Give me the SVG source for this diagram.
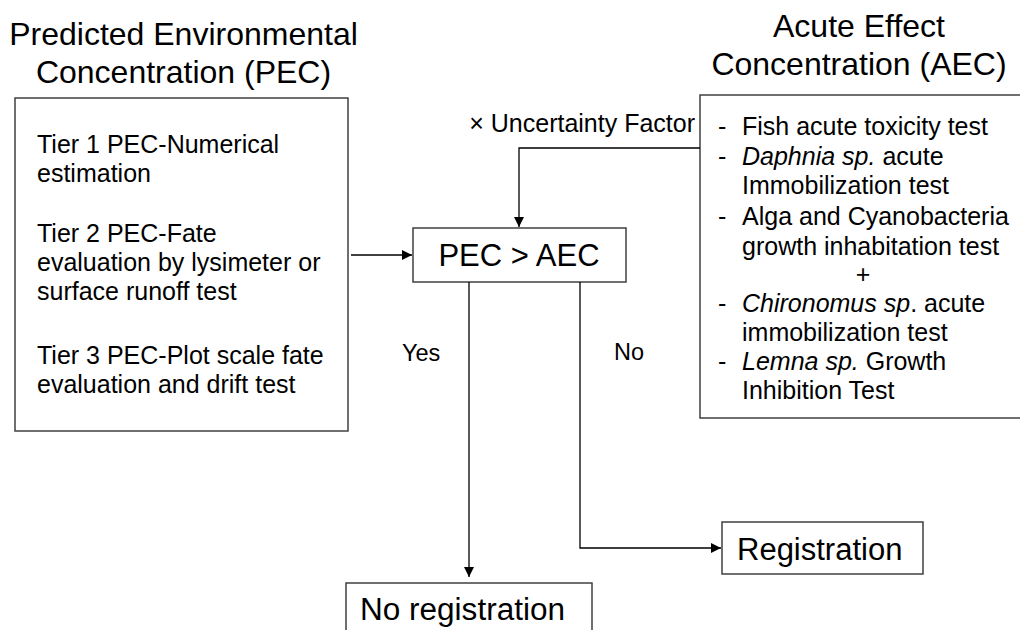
<svg xmlns="http://www.w3.org/2000/svg" width="1020" height="630" viewBox="0 0 1020 630">
<defs>
<style>
text{font-family:"Liberation Sans",Arial,sans-serif;fill:#000}
.box{fill:#fff;stroke:#404040;stroke-width:1.5}
.title{font-size:32px}
.body{font-size:25px}
.lbl{font-size:23.5px}
.big{font-size:31px}
.conn{fill:none;stroke:#000;stroke-width:1.3}
.i{font-style:italic}
</style>
<marker id="arr" viewBox="0 0 10 10" refX="10" refY="5" markerWidth="10" markerHeight="10" markerUnits="userSpaceOnUse" orient="auto">
<path d="M0,0 L10,5 L0,10 z" fill="#000"/>
</marker>
</defs>
<rect width="1020" height="630" fill="#fff"/>

<g id="pec-title">
<text class="title" x="183.5" y="45" text-anchor="middle">Predicted Environmental</text>
<text class="title" x="183.5" y="83" text-anchor="middle">Concentration (PEC)</text>
</g>
<g id="pec">
<rect class="box" x="15" y="98" width="333" height="333"/>
<text class="body" x="37" y="153">Tier 1 PEC-Numerical</text>
<text class="body" x="37" y="182">estimation</text>
<text class="body" x="37" y="242">Tier 2 PEC-Fate</text>
<text class="body" x="37" y="271">evaluation by lysimeter or</text>
<text class="body" x="37" y="300">surface runoff test</text>
<text class="body" x="37" y="364">Tier 3 PEC-Plot scale fate</text>
<text class="body" x="37" y="393">evaluation and drift test</text>
</g>

<g id="aec-title">
<text class="title" x="859" y="37" text-anchor="middle">Acute Effect</text>
<text class="title" x="859" y="75" text-anchor="middle">Concentration (AEC)</text>
</g>
<g id="aec">
<rect class="box" x="700" y="95" width="330" height="323"/>
<text class="body" x="718" y="135">-</text><text class="body" x="742" y="135">Fish acute toxicity test</text>
<text class="body" x="718" y="165">-</text><text class="body" x="742" y="165"><tspan class="i">Daphnia sp.</tspan> acute</text>
<text class="body" x="742" y="194">Immobilization test</text>
<text class="body" x="718" y="225">-</text><text class="body" x="742" y="225">Alga and Cyanobacteria</text>
<text class="body" x="742" y="255">growth inhabitation test</text>
<text class="body" x="863" y="283" text-anchor="middle">+</text>
<text class="body" x="718" y="312">-</text><text class="body" x="742" y="312"><tspan class="i">Chironomus sp</tspan>. acute</text>
<text class="body" x="742" y="341">immobilization test</text>
<text class="body" x="718" y="370">-</text><text class="body" x="742" y="370"><tspan class="i">Lemna sp.</tspan> Growth</text>
<text class="body" x="742" y="399">Inhibition Test</text>
</g>

<g id="decision">
<rect class="box" x="413" y="228" width="213" height="54"/>
<text class="big" x="519" y="266" text-anchor="middle">PEC &gt; AEC</text>
</g>

<g id="registration">
<rect class="box" x="722" y="522" width="201" height="52"/>
<text class="big" x="737" y="560">Registration</text>
</g>

<g id="no-registration">
<rect class="box" x="346" y="583" width="246" height="60"/>
<text class="big" x="360" y="620" textLength="205" lengthAdjust="spacingAndGlyphs">No registration</text>
</g>

<g id="connectors">
<path class="conn" d="M351,255 L412,255" marker-end="url(#arr)"/>
<path class="conn" d="M700,148 L519,148 L519,227" marker-end="url(#arr)"/>
<path class="conn" d="M469,282 L469,577" marker-end="url(#arr)"/>
<path class="conn" d="M580,282 L580,548 L721,548" marker-end="url(#arr)"/>
<text class="body" x="695" y="132" text-anchor="end">× Uncertainty Factor</text>
<text class="lbl" x="402" y="361">Yes</text>
<text class="lbl" x="614" y="360">No</text>
</g>
</svg>
